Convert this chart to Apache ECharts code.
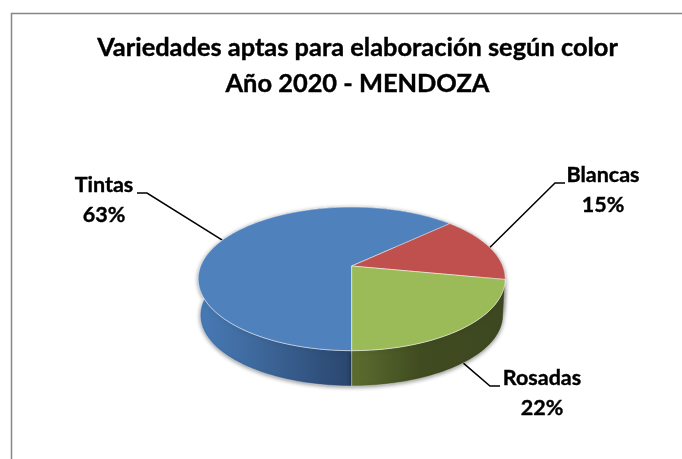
<!DOCTYPE html>
<html><head><meta charset="utf-8">
<style>html,body{margin:0;padding:0;background:#fff}#c{width:682px;height:459px}</style>
<script src="https://cdn.jsdelivr.net/npm/echarts@6/dist/echarts.min.js"></script>
</head><body><div id="c"></div>
<script>
const categories = ['Tintas', 'Blancas', 'Rosadas'];
const values = [63, 15, 22];
const titleLines = ['Variedades aptas para elaboración según color', 'Año 2020 - MENDOZA'];

const topColors = ['#4f81bd', '#c0504d', '#9bbb59'];
const sideStops = [
  [[0, '#477ab5'], [0.35, '#3f6a9e'], [1, '#2a466e']],
  [[0, '#7f3431'], [1, '#7f3431']],
  [[0, '#5d6e30'], [0.45, '#404b20'], [1, '#3d4822']]
];
const sideRange = [[198, 351], [351, 505], [351, 505]];
const labelPos = [[104, 200], [603, 190], [542, 393]];
const elbows = [[[147, 193], [137, 193]], [[555, 183], [565, 183]], [[490, 386], [500, 386]]];

const FIRST_ANGLE = 180, K = 0.179;
const topFace = {cx: 351.7, cy: 266, A: 151, B: 69.5};
const botFace = {cx: 351.7, cy: 302.6, A: 149, B: 68.5};
const DEPTH_RIM = 35;

const total = values.reduce((a, b) => a + b, 0);
const slices = [];
values.reduce((acc, v) => {
  const sweep = v / total * 360;
  slices.push({start: acc, end: acc + sweep, mid: acc + sweep / 2});
  return acc + sweep;
}, FIRST_ANGLE);

function project(face, deg) {
  const t = deg * Math.PI / 180, u = Math.sin(t), v = -Math.cos(t), d = 1 - K * v;
  return [face.cx + face.A * u / d, face.cy + face.B * v / d];
}
function arc(face, a0, a1) {
  const n = Math.max(2, Math.ceil((a1 - a0) / 1.5)), pts = [];
  for (let i = 0; i <= n; i++) pts.push(project(face, a0 + (a1 - a0) * i / n));
  return pts;
}

const renderLeader = (p, api) => {
  const i = p.dataIndex, s = slices[i];
  let a = project(topFace, s.mid);
  if (a[1] > topFace.cy + 30) a = [a[0], a[1] + DEPTH_RIM];
  return {type: 'polyline', shape: {points: [a, elbows[i][0], elbows[i][1]]},
    style: {stroke: '#000', lineWidth: 1.5, fill: null}};
};
const renderSide = (p, api) => {
  const i = p.dataIndex, s = slices[i];
  const pts = arc(topFace, s.start, s.end).concat(arc(botFace, s.start, s.end).reverse());
  const r = sideRange[i], st = sideStops[i].map(c => ({offset: c[0], color: c[1]}));
  return {type: 'polygon', shape: {points: pts}, style: {
    fill: new echarts.graphic.LinearGradient(i === 0 ? r[1] : r[0], 0, i === 0 ? r[0] : r[1], 0,
      i === 0 ? st.map(c => ({offset: 1 - c.offset, color: c.color})).reverse() : st, true),
    stroke: 'rgba(255,255,255,0.45)', lineWidth: 0.8,
    shadowBlur: 4, shadowColor: 'rgba(0,0,0,0.45)', shadowOffsetY: 1}};
};
const renderTop = (p, api) => {
  const i = p.dataIndex, s = slices[i];
  const pts = [[topFace.cx, topFace.cy]];
  return {type: 'polygon', shape: {points: pts.concat(arc(topFace, s.start, s.end))},
    style: {fill: topColors[i], stroke: 'rgba(255,255,255,0.6)', lineWidth: 0.8}};
};
const renderLabel = (p, api) => {
  const i = p.dataIndex;
  return {type: 'text', x: labelPos[i][0], y: labelPos[i][1], style: {
    text: categories[i] + '\n' + Math.round(values[i] / total * 100) + '%',
    font: 'bold 21.5px Lato', fill: '#000', stroke: '#000', lineWidth: 0.4,
    align: 'center', verticalAlign: 'middle', lineHeight: 29.5}};
};
const data = values.map((v, i) => ({name: categories[i], value: v}));
const chart = echarts.init(document.getElementById('c'), null, {renderer: 'canvas'});
chart.setOption({
  animation: false,
  backgroundColor: '#fff',
  title: {text: titleLines.join('\n'), left: 352.5, top: 25, textAlign: 'center',
    textStyle: {fontFamily: 'Lato', fontWeight: 'bold', fontSize: 25.4, color: '#000', lineHeight: 36,
      textBorderColor: '#000', textBorderWidth: 0.4}},
  graphic: [{type: 'rect', shape: {x: 11.5, y: 13.5, width: 900, height: 700},
    style: {fill: null, stroke: '#868686', lineWidth: 1.5}, z: 0}],
  series: [
    {type: 'custom', coordinateSystem: 'none', renderItem: renderLeader, data, z: 2},
    {type: 'custom', coordinateSystem: 'none', renderItem: renderSide, data, z: 3},
    {type: 'custom', coordinateSystem: 'none', renderItem: renderTop, data, z: 4},
    {type: 'custom', coordinateSystem: 'none', renderItem: renderLabel, data, z: 5}
  ]
});
</script></body></html>
